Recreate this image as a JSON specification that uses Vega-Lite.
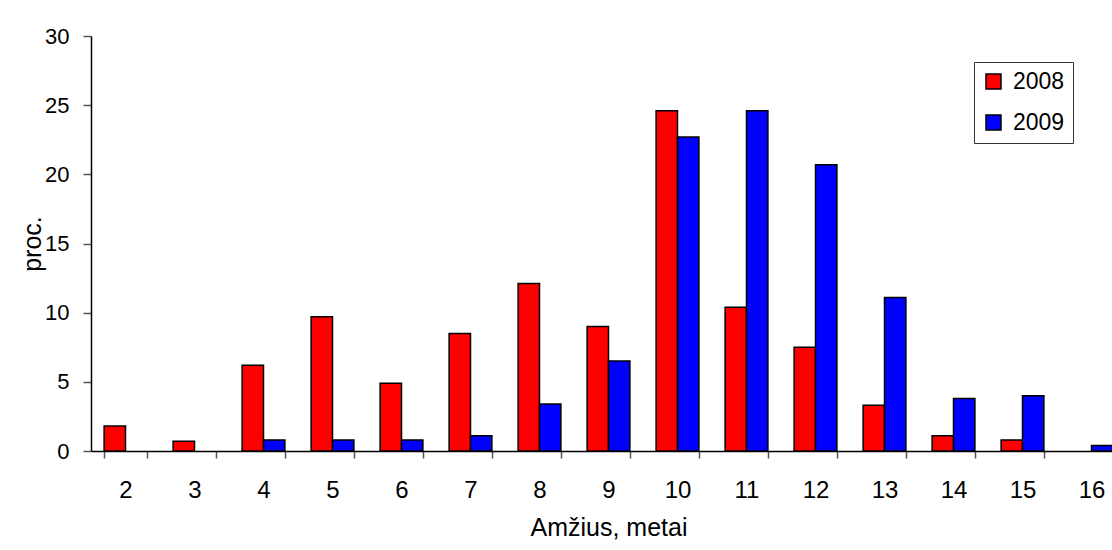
{
  "$schema": "https://vega.github.io/schema/vega-lite/v6.json",
  "width": 1021,
  "height": 415,
  "autosize": "none",
  "padding": {"left": 91, "top": 36, "right": 0, "bottom": 99},
  "background": "white",
  "config": {
    "view": {"stroke": null},
    "font": "Liberation Sans",
    "axis": {"labelColor": "black", "titleColor": "black", "titleFontWeight": "normal", "domainColor": "black", "domainWidth": 1.5, "tickColor": "#555", "tickWidth": 1.5}
  },
  "data": {
    "values": [
      {"age": 2, "year": "2008", "value": 1.8},
      {"age": 3, "year": "2008", "value": 0.7},
      {"age": 4, "year": "2008", "value": 6.2},
      {"age": 5, "year": "2008", "value": 9.7},
      {"age": 6, "year": "2008", "value": 4.9},
      {"age": 7, "year": "2008", "value": 8.5},
      {"age": 8, "year": "2008", "value": 12.1},
      {"age": 9, "year": "2008", "value": 9.0},
      {"age": 10, "year": "2008", "value": 24.6},
      {"age": 11, "year": "2008", "value": 10.4},
      {"age": 12, "year": "2008", "value": 7.5},
      {"age": 13, "year": "2008", "value": 3.3},
      {"age": 14, "year": "2008", "value": 1.1},
      {"age": 15, "year": "2008", "value": 0.8},
      {"age": 4, "year": "2009", "value": 0.8},
      {"age": 5, "year": "2009", "value": 0.8},
      {"age": 6, "year": "2009", "value": 0.8},
      {"age": 7, "year": "2009", "value": 1.1},
      {"age": 8, "year": "2009", "value": 3.4},
      {"age": 9, "year": "2009", "value": 6.5},
      {"age": 10, "year": "2009", "value": 22.7},
      {"age": 11, "year": "2009", "value": 24.6},
      {"age": 12, "year": "2009", "value": 20.7},
      {"age": 13, "year": "2009", "value": 11.1},
      {"age": 14, "year": "2009", "value": 3.8},
      {"age": 15, "year": "2009", "value": 4.0},
      {"age": 16, "year": "2009", "value": 0.4}
    ]
  },
  "mark": {"type": "bar", "stroke": "black", "strokeWidth": 1.5},
  "encoding": {
    "x": {
      "field": "age",
      "type": "ordinal",
      "scale": {"domain": [2, 3, 4, 5, 6, 7, 8, 9, 10, 11, 12, 13, 14, 15, 16], "range": [0, 1035], "paddingInner": 0.38, "paddingOuter": 0.19},
      "axis": {
        "title": "Amžius, metai",
        "labelAngle": 0,
        "tickBand": "extent",
        "tickSize": 7,
        "labelFontSize": 24,
        "labelPadding": 20,
        "titleFontSize": 25,
        "titlePadding": 13
      }
    },
    "y": {
      "field": "value",
      "type": "quantitative",
      "scale": {"domain": [0, 30]},
      "axis": {
        "title": "proc.",
        "values": [0, 5, 10, 15, 20, 25, 30],
        "grid": false,
        "tickSize": 8,
        "labelFontSize": 22,
        "labelPadding": 14,
        "titleFontSize": 25,
        "titlePadding": -1
      }
    },
    "xOffset": {"field": "year", "type": "nominal", "scale": {"domain": ["2008", "2009"]}},
    "color": {
      "field": "year",
      "type": "nominal",
      "scale": {"domain": ["2008", "2009"], "range": ["#FF0000", "#0000FF"]},
      "legend": {
        "title": null,
        "orient": "none",
        "legendX": 883,
        "legendY": 26,
        "direction": "vertical",
        "labelFontSize": 23,
        "labelColor": "black",
        "labelOffset": 8,
        "labelLimit": 200,
        "symbolType": "square",
        "symbolSize": 225,
        "symbolStrokeColor": "black",
        "symbolStrokeWidth": 1.5,
        "symbolOpacity": 1,
        "rowPadding": 17,
        "padding": 8,
        "strokeColor": "#333",
        "fillColor": "white"
      }
    }
  }
}
